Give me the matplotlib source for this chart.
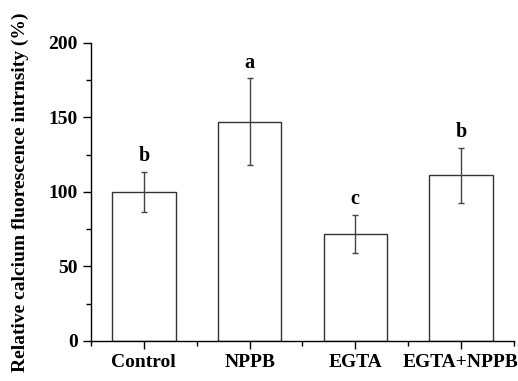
import numpy as np
import matplotlib.pyplot as plt
from matplotlib.ticker import MultipleLocator, FixedLocator

groups = ['Control', 'NPPB', 'EGTA', 'EGTA+NPPB']
means = [100, 147, 71.5, 111]
errs = [13.5, 29, 12.7, 18.4]
letters = ['b', 'a', 'c', 'b']

plt.rcParams['font.family'] = 'Liberation Serif'
plt.rcParams['font.weight'] = 'bold'

fig = plt.figure(figsize=(5.18, 3.81), dpi=100)
ax = fig.add_axes([0.1757, 0.105, 0.8163, 0.783])

x = np.arange(len(groups))
ax.bar(x, means, width=0.6, color='white', edgecolor='#333333', linewidth=1.0, zorder=2)
ax.errorbar(x, means, yerr=errs, fmt='none', ecolor='#444444', elinewidth=1.0,
            capsize=2.5, capthick=1.0, zorder=3)

for xi, m, e, lab in zip(x, means, errs, letters):
    ax.text(xi, m + e + 4, lab, ha='center', va='bottom', fontsize=14.5, fontweight='bold')

ax.set_xlim(-0.5, 3.5)
ax.set_ylim(0, 200)
ax.set_xticks(x)
ax.set_xticklabels(groups, fontsize=14, fontweight='bold')
ax.xaxis.set_minor_locator(FixedLocator([-0.5, 0.5, 1.5, 2.5, 3.5]))
ax.yaxis.set_major_locator(MultipleLocator(50))
ax.yaxis.set_minor_locator(MultipleLocator(25))
ax.tick_params(axis='both', which='major', direction='out', length=6, width=1, labelsize=14)
ax.tick_params(axis='both', which='minor', direction='out', length=3.5, width=1)
for lbl in ax.get_yticklabels():
    lbl.set_fontweight('bold')

ax.spines['top'].set_visible(False)
ax.spines['right'].set_visible(False)
for s in ('left', 'bottom'):
    ax.spines[s].set_linewidth(1.0)

ax.set_ylabel('Relative calcium fluorescence intrnsity (%)', fontsize=14, fontweight='bold', labelpad=14)

fig.savefig('out.png', dpi=100)
